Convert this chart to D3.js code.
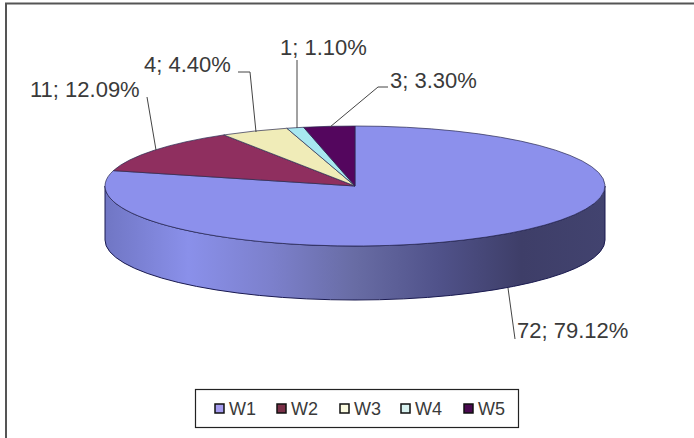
<!DOCTYPE html>
<html><head><meta charset="utf-8">
<script src="https://cdn.jsdelivr.net/npm/d3@7"></script>
<style>html,body{margin:0;background:#fff}svg{display:block}text{font-family:"Liberation Sans",Arial,sans-serif;fill:#3a3a3a}</style>
</head><body><svg width="694" height="438"></svg>
<script>
const categories = ["W1","W2","W3","W4","W5"];
const counts = [72,11,4,1,3];
const percents = ["79.12%","12.09%","4.40%","1.10%","3.30%"];
const colors = ["#8c90ec","#8f2f5f","#f0ecb8","#a8e8f0","#54065e"];
const legendColors = ["#a59cf0","#7a3048","#fbfbe0","#d8f2f0","#4a0a50"];
const sideStops = ["#7076c4","#8a90ea","#7c80cc","#686ca4","#50528a","#3e3e68","#42436f"];
const leaderPaths = [
 [[508,288],[515,339]],
 [[156,150],[147,97]],
 [[256,132],[250,72],[238,72]],
 [[297,128],[297,60]],
 [[330,127],[378,87],[388,87]]
];
const labelAnchors = [[517,338],[30,97],[144,72],[280,55],[390,88]];
const legendX = [215,277,340,401,464];

const svg = d3.select("svg");
const cx=355, cy=186, rx=250, ry=60, depth=54;
const px = a => cx + rx*Math.sin(a), py = a => cy - ry*Math.cos(a);

svg.append("path").attr("d","M6,438V3.5H694").attr("fill","none").attr("stroke","#555").attr("stroke-width",2);

const defs = svg.append("defs");
const xs = d3.scaleLinear().domain([0,1]).range([cx-rx,cx+rx]);
const grad = defs.append("linearGradient").attr("id","side").attr("gradientUnits","userSpaceOnUse")
  .attr("x1",xs(0)).attr("x2",xs(1)).attr("y1",0).attr("y2",0);
sideStops.forEach((c,i)=>grad.append("stop").attr("offset",i/(sideStops.length-1)).attr("stop-color",c));

const arcs = d3.pie().sort(null)(counts);
svg.append("path").attr("fill","url(#side)").attr("stroke","#1a1a50").attr("stroke-width",1)
  .attr("d",`M${cx-rx},${cy}A${rx},${ry} 0 0 0 ${cx+rx},${cy}L${cx+rx},${cy+depth}A${rx},${ry} 0 0 1 ${cx-rx},${cy+depth}Z`);
arcs.forEach((d,i)=>{
  const large = d.endAngle-d.startAngle>Math.PI?1:0;
  svg.append("path").attr("fill",colors[i]).attr("stroke","#2a2a50").attr("stroke-width",0.7).attr("stroke-linejoin","round")
    .attr("d",`M${cx},${cy}L${px(d.startAngle)},${py(d.startAngle)}A${rx},${ry} 0 ${large} 1 ${px(d.endAngle)},${py(d.endAngle)}Z`);
});
const line = d3.line();
leaderPaths.forEach(p=>svg.append("path").attr("d",line(p)).attr("fill","none").attr("stroke","#444").attr("stroke-width",1));
arcs.forEach((d,i)=>svg.append("text").attr("x",labelAnchors[i][0]).attr("y",labelAnchors[i][1]).attr("font-size",22)
  .text(counts[i]+"; "+percents[i]));
svg.append("rect").attr("x",195.5).attr("y",389.5).attr("width",323).attr("height",38).attr("fill","#fff").attr("stroke","#222").attr("stroke-width",1.2);
categories.forEach((c,i)=>{
  svg.append("rect").attr("x",legendX[i]).attr("y",404).attr("width",9).attr("height",9).attr("fill",legendColors[i]).attr("stroke","#111").attr("stroke-width",1.5);
  svg.append("text").attr("x",legendX[i]+14).attr("y",414.5).attr("font-size",18).text(c);
});
</script></body></html>
